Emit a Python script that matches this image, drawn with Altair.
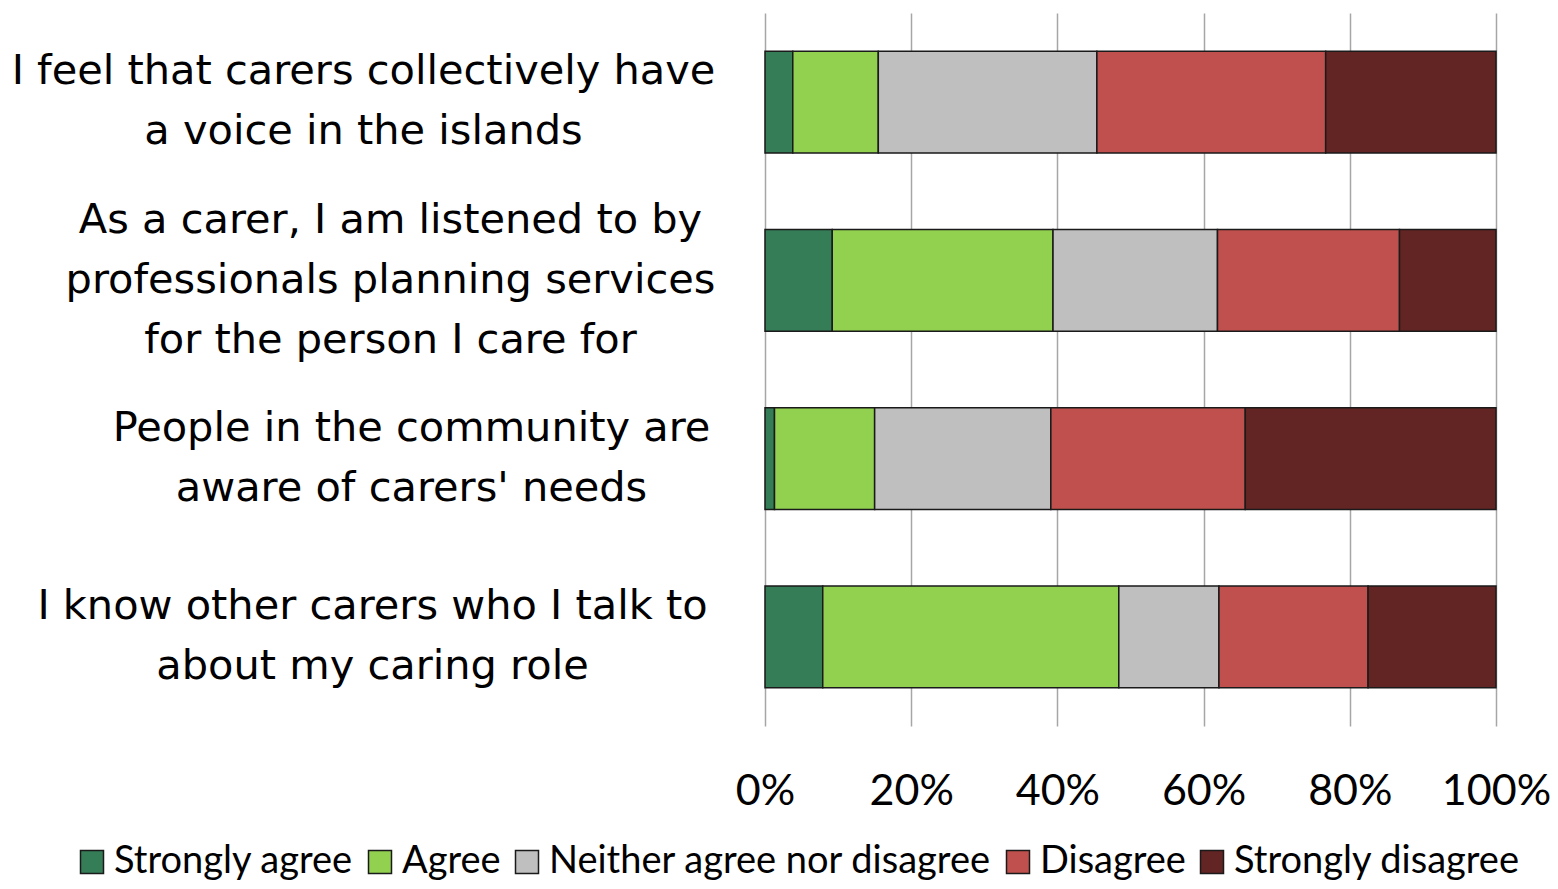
import altair as alt
import pandas as pd

questions = [
    "I feel that carers collectively have|a voice in the islands",
    "As a carer, I am listened to by|professionals planning services|for the person I care for",
    "People in the community are|aware of carers' needs",
    "I know other carers who I talk to|about my caring role",
]
responses = ["Strongly agree", "Agree", "Neither agree nor disagree", "Disagree", "Strongly disagree"]
colors = ["#357D57", "#92D050", "#BFBFBF", "#C0504D", "#632523"]

strongly_agree = [3.8, 9.2, 1.3, 7.9]
agree = [11.7, 30.2, 13.7, 40.5]
neither = [29.9, 22.5, 24.1, 13.7]
disagree = [31.3, 24.9, 26.6, 20.4]
strongly_disagree = [23.3, 13.2, 34.3, 17.5]
x_ticks = [0, 0.2, 0.4, 0.6, 0.8, 1.0]

series = [strongly_agree, agree, neither, disagree, strongly_disagree]
rows = []
for ri, (resp, vals) in enumerate(zip(responses, series)):
    for q, v in zip(questions, vals):
        rows.append({"question": q, "response": resp, "value": v, "order": ri})
df = pd.DataFrame(rows)

# centre of each label block, measured from the plot's left edge
pad_expr = (
    "indexof(datum.value, 'I feel') == 0 ? 402 : "
    "indexof(datum.value, 'As a carer') == 0 ? 375 : "
    "indexof(datum.value, 'People') == 0 ? 354 : 393"
)
# shift multi-line blocks so that they are centred on their bar
off_expr = "-(length(split(datum.value, '|')) - 1) * 29 - 1"

chart = alt.Chart(df).mark_bar(stroke="#1a1a1a", strokeWidth=1.5).encode(
    y=alt.Y(
        "question:N",
        sort=questions,
        scale=alt.Scale(paddingInner=0.43, paddingOuter=0.215),
        axis=alt.Axis(
            title=None,
            domain=False,
            ticks=False,
            tickSize=0,
            labelExpr="split(datum.value, '|')",
            labelFont="DejaVu Sans",
            labelFontSize=41.5,
            labelLineHeight=60,
            labelColor="#000000",
            labelAlign="center",
            labelBaseline="middle",
            labelLimit=2000,
            labelPadding=alt.ExprRef(expr=pad_expr),
            labelOffset=alt.ExprRef(expr=off_expr),
        ),
    ),
    x=alt.X(
        "value:Q",
        stack="normalize",
        scale=alt.Scale(domain=[0, 1], nice=False),
        axis=alt.Axis(
            title=None,
            values=x_ticks,
            format=".0%",
            domain=False,
            ticks=False,
            tickSize=0,
            grid=True,
            gridColor="#A6A6A6",
            gridWidth=1.5,
            labelFont="Lato",
            labelFontSize=43,
            labelColor="#000000",
            labelPadding=44,
            labelFlush=False,
        ),
    ),
    color=alt.Color(
        "response:N",
        scale=alt.Scale(domain=responses, range=colors),
        legend=alt.Legend(
            title=None,
            orient="none",
            direction="horizontal",
            legendX=-692,
            legendY=830,
            padding=0,
            symbolType="square",
            symbolSize=529,
            symbolStrokeColor="#1a1a1a",
            symbolStrokeWidth=1.5,
            symbolOpacity=1,
            labelFont="Lato",
            labelFontSize=38,
            labelColor="#000000",
            labelLimit=2000,
            labelOffset=3,
            columnPadding=7,
        ),
    ),
    order=alt.Order("order:Q"),
).properties(
    width=731,
    height=713,
    autosize=alt.AutoSizeParams(type="none"),
    padding={"left": 757, "top": 5, "right": 54, "bottom": 155},
).configure_view(stroke=None)

chart.save("out.html", embed_options={"renderer": "svg", "actions": False})
